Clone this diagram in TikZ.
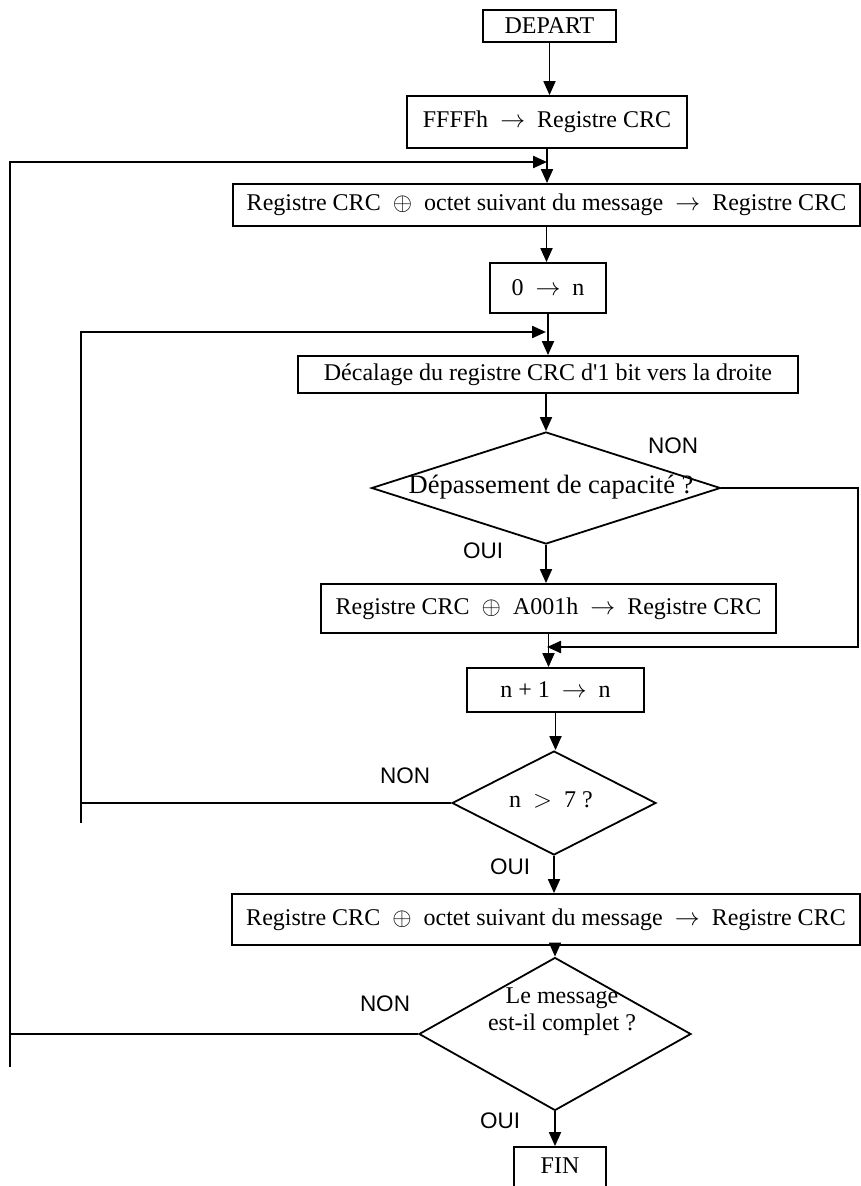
\documentclass[tikz,border=0pt]{standalone}
\usepackage{fontspec}
\setmainfont{Liberation Serif}
\newfontfamily\sansf{Liberation Sans}
\usetikzlibrary{shapes.geometric,arrows.meta}
\begin{document}
\begin{tikzpicture}[x=1pt,y=-1pt,
 box/.style={draw,line width=1.8pt,inner sep=0pt,font=\fontsize{24}{27}\selectfont,align=center},
 decision/.style={diamond,draw,line width=1.8pt,inner sep=0pt},
 txt/.style={inner sep=0pt,font=\fontsize{24}{27}\selectfont,align=center},
 tip/.style={-{Triangle[length=14pt,width=12pt]}},
 conn/.style={line width=1.8pt,tip},
 loopl/.style={line width=2.3pt},
 lab/.style={inner sep=0pt,font=\sansf\fontsize{22.5}{26}\selectfont}]
\useasboundingbox (0,0) rectangle (861,1186);
\clip (0,0) rectangle (861,1186);
\fill[white] (0,0) rectangle (861,1186);

% nodes
\node[box,minimum width=133,minimum height=32] (dep) at (549.5,26) {DEPART};
\node[box,minimum width=280,minimum height=52] (ffff) at (547,122) {FFFFh\ \ $\rightarrow$\ \ Registre CRC};
\node[box,minimum width=627,minimum height=42] (reg1) at (546.5,205) {Registre CRC\ \ $\oplus$\ \ octet suivant du message\ \ $\rightarrow$\ \ Registre CRC};
\node[box,minimum width=116,minimum height=50] (zero) at (548,288) {0\ \ $\rightarrow$\ \ n};
\node[box,minimum width=500,minimum height=37] (shift) at (548,374.5) {Décalage du registre CRC d\textquotesingle 1 bit vers la droite};
\node[decision,minimum width=349,minimum height=112] (d1) at (546,488) {};
\node[txt,font=\fontsize{26.5}{30}\selectfont] (t1) at (551,487) {Dépassement de capacité ?};
\node[box,minimum width=455,minimum height=49] (xor) at (548.5,608.5) {Registre CRC\ \ $\oplus$\ \ A001h\ \ $\rightarrow$\ \ Registre CRC};
\node[box,minimum width=177,minimum height=44] (inc) at (555.5,690) {n + 1\ \ $\rightarrow$\ \ n};
\node[decision,minimum width=204,minimum height=104] (d2) at (554,803) {};
\node[txt] (t2) at (551,800) {n\ \ $>$\ \ 7 ?};
\node[box,minimum width=628,minimum height=51] (reg2) at (546,919.5) {Registre CRC\ \ $\oplus$\ \ octet suivant du message\ \ $\rightarrow$\ \ Registre CRC};
\node[decision,minimum width=272,minimum height=153] (d3) at (555,1034) {};
\node[txt] (t3) at (562,1012) {Le message\\est-il complet ?};
\node[box,minimum width=92,minimum height=46] (fin) at (560,1170) {};
\node[txt] (fint) at (560,1166) {FIN};

% labels
\node[lab] (non1) at (673,446) {NON};
\node[lab] (oui1) at (483,551) {OUI};
\node[lab] (non2) at (405,776) {NON};
\node[lab] (oui2) at (510,867) {OUI};
\node[lab] (non3) at (385,1004) {NON};
\node[lab] (oui3) at (500,1121) {OUI};

% straight connectors
\draw[conn] (dep.south) -- (dep.south |- ffff.north);
\draw[conn] (ffff.south) -- (ffff.south |- reg1.north);
\draw[conn] (reg1.south) -- (reg1.south |- zero.north);
\draw[conn] (zero.south) -- (zero.south |- shift.north);
\draw[conn] (d1.north |- shift.south) -- (d1.north);
\draw[conn] (d1.south) -- (d1.south |- xor.north);
\draw[conn] (xor.south) -- (xor.south |- inc.north);
\draw[conn] (inc.south) -- (inc.south |- d2.north);
\draw[conn] (d2.south) -- (d2.south |- reg2.north);
\draw[conn] (d3.north |- reg2.south) -- (d3.north);
\draw[conn] (d3.south) -- (d3.south |- fin.north);

% outer loop
\coordinate (ot) at (10,162);
\coordinate (ob) at (10,1067);
\coordinate (m1) at (547,162);
\draw[loopl,tip] (ob) -- (ot) -- (m1);
\draw[loopl] (d3.west) -- (d3.west -| ot);

% inner loop
\coordinate (it) at (81,332);
\coordinate (ib) at (81,823);
\coordinate (m2) at (546,332);
\draw[loopl,tip] (ib) -- (it) -- (m2);
\draw[loopl] (d2.west) -- (d2.west -| it);

% bypass
\coordinate (r2) at (858,647);
\coordinate (m3) at (547,647);
\draw[loopl,tip] (d1.east) -- (d1.east -| r2) -- (r2) -- (m3);
\end{tikzpicture}
\end{document}
